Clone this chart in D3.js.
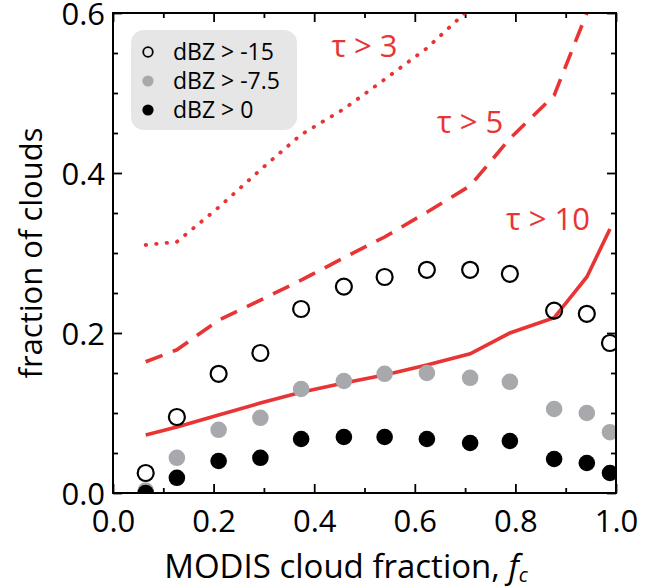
<!DOCTYPE html>
<html>
<head>
<meta charset="utf-8">
<script src="https://cdn.jsdelivr.net/npm/d3@7"></script>
<style>
  html, body { margin: 0; padding: 0; background: #fff; }
  svg { display: block; }
  text { font-family: "Open Sans", "Noto Sans", sans-serif; }
</style>
</head>
<body>
<svg id="chart" width="646" height="588"></svg>
<script>
// ---- data ----
const fcBins   = [0.065, 0.127, 0.210, 0.293, 0.374, 0.459, 0.540, 0.624, 0.710, 0.789, 0.877, 0.942, 0.988];
const dbzGtM15 = [0.025, 0.095, 0.149, 0.175, 0.230, 0.258, 0.270, 0.279, 0.279, 0.274, 0.228, 0.224, 0.1875];
const dbzGtM75 = [0.003, 0.044, 0.079, 0.094, 0.130, 0.140, 0.149, 0.150, 0.144, 0.139, 0.105, 0.100, 0.076];
const dbzGt0   = [0.000, 0.019, 0.040, 0.044, 0.0675, 0.070, 0.070, 0.0675, 0.0625, 0.065, 0.0425, 0.0375, 0.025];
const tauGt3   = [0.310, 0.314, 0.357, 0.404, 0.448, 0.480, 0.517, 0.556, 0.606];
const tauGt5   = [0.164, 0.179, 0.216, 0.241, 0.266, 0.294, 0.320, 0.351, 0.384, 0.443, 0.497, 0.600, 0.680];
const tauGt10  = [0.0725, 0.0825, 0.0975, 0.1125, 0.126, 0.1375, 0.1475, 0.160, 0.174, 0.200, 0.219, 0.270, 0.330];
const xTicks = [0, 0.2, 0.4, 0.6, 0.8, 1.0];
const xMinor = [0.1, 0.3, 0.5, 0.7, 0.9];
const yTicks = [0, 0.2, 0.4, 0.6];
const yMinor = [0.05, 0.1, 0.15, 0.25, 0.3, 0.35, 0.45, 0.5, 0.55];
const legendLabels = ["dBZ > -15", "dBZ > -7.5", "dBZ > 0"];
const tauLabels = [
  {text: "\u03c4 > 3",  fc: 0.50, v: 0.545},
  {text: "\u03c4 > 5",  fc: 0.71, v: 0.45},
  {text: "\u03c4 > 10", fc: 0.865, v: 0.329}
];

// ---- layout ----
const RED = "#e83434", GREY = "#a7a9ac";
const svg = d3.select("#chart");
const x = d3.scaleLinear().domain([0, 1]).range([113, 616]);
const y = d3.scaleLinear().domain([0, 0.6]).range([493, 13]);
const [x0, x1] = x.range(), [y0, y1] = y.range();

svg.append("defs").append("clipPath").attr("id", "plotclip")
  .append("rect").attr("x", x0).attr("y", y1).attr("width", x1 - x0).attr("height", y0 - y1);

// ---- axes ----
function styleAxis(g) {
  g.select(".domain").remove();
  g.selectAll(".tick line").attr("stroke", "#000").attr("stroke-width", 1.8);
  g.selectAll(".tick text").attr("fill", "#000").style("font-size", "31px");
}
svg.append("g").attr("transform", `translate(0,${y0})`)
  .call(d3.axisBottom(x).tickValues(xTicks).tickSize(-9).tickPadding(17).tickFormat(d3.format(".1f")))
  .call(styleAxis);
svg.append("g").attr("transform", `translate(0,${y0})`)
  .call(d3.axisBottom(x).tickValues(xMinor).tickSize(-5).tickFormat("")).call(styleAxis);
svg.append("g").attr("transform", `translate(0,${y1})`)
  .call(d3.axisTop(x).tickValues(xTicks).tickSize(-9).tickFormat("")).call(styleAxis);
svg.append("g").attr("transform", `translate(0,${y1})`)
  .call(d3.axisTop(x).tickValues(xMinor).tickSize(-5).tickFormat("")).call(styleAxis);
const yAx = svg.append("g").attr("transform", `translate(${x0},0)`)
  .call(d3.axisLeft(y).tickValues(yTicks).tickSize(-9).tickPadding(8).tickFormat(d3.format(".1f")))
  .call(styleAxis);
yAx.selectAll(".tick text").attr("dy", "0.37em");
svg.append("g").attr("transform", `translate(${x0},0)`)
  .call(d3.axisLeft(y).tickValues(yMinor).tickSize(-5).tickFormat("")).call(styleAxis);
svg.append("g").attr("transform", `translate(${x1},0)`)
  .call(d3.axisRight(y).tickValues(yTicks).tickSize(-9).tickFormat("")).call(styleAxis);
svg.append("g").attr("transform", `translate(${x1},0)`)
  .call(d3.axisRight(y).tickValues(yMinor).tickSize(-5).tickFormat("")).call(styleAxis);

// ---- legend box ----
const lg = svg.append("g");
lg.append("rect").attr("x", 131).attr("y", 30).attr("width", 166).attr("height", 100)
  .attr("rx", 13).attr("fill", "#e6e6e6");
const legendStyles = [
  {fill: "none", stroke: "#000"},
  {fill: GREY, stroke: "none"},
  {fill: "#000", stroke: "none"}
];
legendLabels.forEach((t, i) => {
  const cy = 52 + i * 29;
  lg.append("circle").attr("cx", 148).attr("cy", cy).attr("r", i === 0 ? 4.8 : 5.6)
    .attr("fill", legendStyles[i].fill).attr("stroke", legendStyles[i].stroke).attr("stroke-width", 1.8);
  lg.append("text").attr("x", 173).attr("y", cy).attr("dy", "0.36em")
    .style("font-size", "23px").attr("fill", "#000").text(t);
});

// ---- lines ----
const plot = svg.append("g").attr("clip-path", "url(#plotclip)");
const line = d3.line().x(d => x(d[0])).y(d => y(d[1]));
const pairs = arr => arr.map((v, i) => [fcBins[i], v]);
plot.append("path").attr("d", line(pairs(tauGt3))).attr("fill", "none")
  .attr("stroke", RED).attr("stroke-width", 3.8).attr("stroke-linecap", "round")
  .attr("stroke-dasharray", "0.5,10");
plot.append("path").attr("d", line(pairs(tauGt5))).attr("fill", "none")
  .attr("stroke", RED).attr("stroke-width", 3.6).attr("stroke-dasharray", "18,11");
plot.append("path").attr("d", line(pairs(tauGt10))).attr("fill", "none")
  .attr("stroke", RED).attr("stroke-width", 3.6);

// ---- markers ----
plot.selectAll("circle.m75").data(pairs(dbzGtM75)).join("circle").attr("class", "m75")
  .attr("cx", d => x(d[0])).attr("cy", d => y(d[1])).attr("r", 8.3).attr("fill", GREY);
plot.selectAll("circle.m0").data(pairs(dbzGt0)).join("circle").attr("class", "m0")
  .attr("cx", d => x(d[0])).attr("cy", d => y(d[1])).attr("r", 8.3).attr("fill", "#000");
plot.selectAll("circle.m15").data(pairs(dbzGtM15)).join("circle").attr("class", "m15")
  .attr("cx", d => x(d[0])).attr("cy", d => y(d[1])).attr("r", 8).attr("fill", "none")
  .attr("stroke", "#000").attr("stroke-width", 2.2);

// ---- tau labels ----
tauLabels.forEach(t => {
  svg.append("text").attr("x", x(t.fc)).attr("y", y(t.v)).attr("text-anchor", "middle")
    .style("font-size", "31px").attr("fill", RED).text(t.text);
});

// ---- frame ----
svg.append("rect").attr("x", x0).attr("y", y1).attr("width", x1 - x0).attr("height", y0 - y1)
  .attr("fill", "none").attr("stroke", "#000").attr("stroke-width", 2);

// ---- axis titles ----
const xt = svg.append("text").attr("x", 346).attr("y", 578).attr("text-anchor", "middle")
  .style("font-size", "33px").attr("fill", "#000");
xt.append("tspan").text("MODIS cloud fraction, ");
xt.append("tspan").attr("font-style", "italic").text("f");
xt.append("tspan").attr("font-style", "italic").attr("dy", 4).style("font-size", "20px").text("c");

svg.append("text").attr("transform", `translate(42,${(y0 + y1) / 2}) rotate(-90)`)
  .attr("text-anchor", "middle").style("font-size", "31px").attr("fill", "#000")
  .text("fraction of clouds");
</script>
</body>
</html>
